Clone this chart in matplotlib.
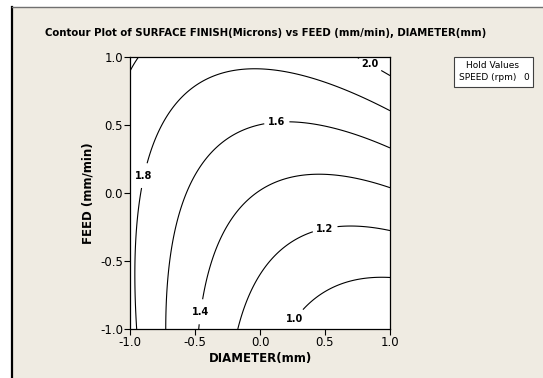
import numpy as np
import matplotlib
matplotlib.use("Agg")
import matplotlib.pyplot as plt
from matplotlib.patches import Rectangle
from matplotlib.lines import Line2D

# points: diameter (x), feed (y), surface finish (z)
finish_levels = [1.0, 1.2, 1.4, 1.6, 1.8, 2.0]

d_10 = [1.0, 0.615, 0.46, 0.33, 0.23]
f_10 = [-0.63, -0.64, -0.73, -0.85, -1.0]
d_12 = [1.0, 0.54, 0.31, 0.15, 0.02, -0.08, -0.17]
f_12 = [-0.29, -0.265, -0.29, -0.42, -0.57, -0.79, -1.0]
d_14 = [1.0, 0.69, 0.38, 0.21, 0.0, -0.25, -0.38, -0.46, -0.48]
f_14 = [0.04, 0.12, 0.13, 0.11, 0.01, -0.27, -0.57, -0.88, -1.0]
d_16 = [1.0, 0.615, 0.25, -0.1, -0.38, -0.55, -0.64, -0.71, -0.72]
f_16 = [0.33, 0.45, 0.52, 0.46, 0.32, 0.04, -0.2, -0.57, -1.0]
d_18 = [1.0, 0.69, 0.31, 0.02, -0.21, -0.46, -0.67, -0.82, -0.9, -0.95, -0.95]
f_18 = [0.61, 0.74, 0.87, 0.91, 0.9, 0.81, 0.63, 0.39, 0.15, -0.47, -1.0]
d_20 = [0.75, 1.0, -1.0, -0.93]
f_20 = [1.0, 0.87, 0.88, 1.0]

diam = [d_10, d_12, d_14, d_16, d_18, d_20]
feed = [f_10, f_12, f_14, f_16, f_18, f_20]

X = np.concatenate([np.array(d) for d in diam])
Y = np.concatenate([np.array(f) for f in feed])
Z = np.concatenate([np.full(len(d), lv) for d, lv in zip(diam, finish_levels)])

# full quadratic response surface (speed held at 0)
A = np.column_stack([np.ones_like(X), X, Y, X**2, Y**2, X*Y])
coef, *_ = np.linalg.lstsq(A, Z, rcond=None)

gx, gy = np.meshgrid(np.linspace(-1, 1, 300), np.linspace(-1, 1, 300))
gz = (coef[0] + coef[1]*gx + coef[2]*gy + coef[3]*gx**2
      + coef[4]*gy**2 + coef[5]*gx*gy)

bg = "#EFEBE2"
fig = plt.figure(figsize=(5.43, 3.78), dpi=100)
fig.patch.set_facecolor("white")
fig.patches.append(Rectangle((12/543, 0), 1, 1 - 7/378, transform=fig.transFigure,
                             facecolor=bg, edgecolor="none", zorder=-5))
fig.lines.append(Line2D([12/543, 12/543], [0, 1 - 7/378], transform=fig.transFigure,
                        color="black", lw=1.6, zorder=-4))
fig.lines.append(Line2D([12/543, 1], [1 - 7/378, 1 - 7/378], transform=fig.transFigure,
                        color="#707070", lw=1, zorder=-4))

ax = fig.add_axes([130/543, 1 - 329/378, 260/543, 272/378])
ax.set_facecolor("white")
cs = ax.contour(gx, gy, gz, levels=finish_levels, colors="black", linewidths=0.8)

label_pos = [(0.27, -0.93), (0.5, -0.26), (-0.48, -0.87), (0.13, 0.51),
             (-0.9, 0.13), (0.85, 0.95)]
with plt.rc_context({"font.weight": "bold"}):
    labels = ax.clabel(cs, fmt="%.1f", fontsize=7, inline=True, inline_spacing=4,
                       manual=label_pos)
for t in labels:
    t.set_rotation(0)

ax.set_xlim(-1, 1)
ax.set_ylim(-1, 1)
ticks = [-1.0, -0.5, 0.0, 0.5, 1.0]
ax.set_xticks(ticks)
ax.set_yticks(ticks)
ax.set_xticklabels(["%.1f" % t for t in ticks])
ax.set_yticklabels(["%.1f" % t for t in ticks])
ax.tick_params(direction="out", length=4, width=0.8, labelsize=8.5, pad=1,
               colors="black")
for s in ax.spines.values():
    s.set_linewidth(0.9)

ax.set_xlabel("DIAMETER(mm)", fontsize=8.5, fontweight="bold", labelpad=2)
ax.set_ylabel("FEED (mm/min)", fontsize=8.5, fontweight="bold", labelpad=4)

fig.text(266/543, 1 - 33/378,
         "Contour Plot of SURFACE FINISH(Microns) vs FEED (mm/min), DIAMETER(mm)",
         ha="center", va="center", fontsize=7.25, fontweight="bold")

# hold values box
fig.patches.append(Rectangle((454/543, 1 - 87/378), 79/543, 30/378,
                             transform=fig.transFigure, facecolor="white",
                             edgecolor="#404040", lw=0.8))
fig.text(493/543, 1 - 65/378, "Hold Values", ha="center", va="center", fontsize=6.5)
fig.text(459/543, 1 - 78/378, "SPEED (rpm)", ha="left", va="center", fontsize=6.5)
fig.text(529/543, 1 - 78/378, "0", ha="right", va="center", fontsize=6.5)

fig.savefig("out.png", dpi=100, facecolor=fig.get_facecolor())
